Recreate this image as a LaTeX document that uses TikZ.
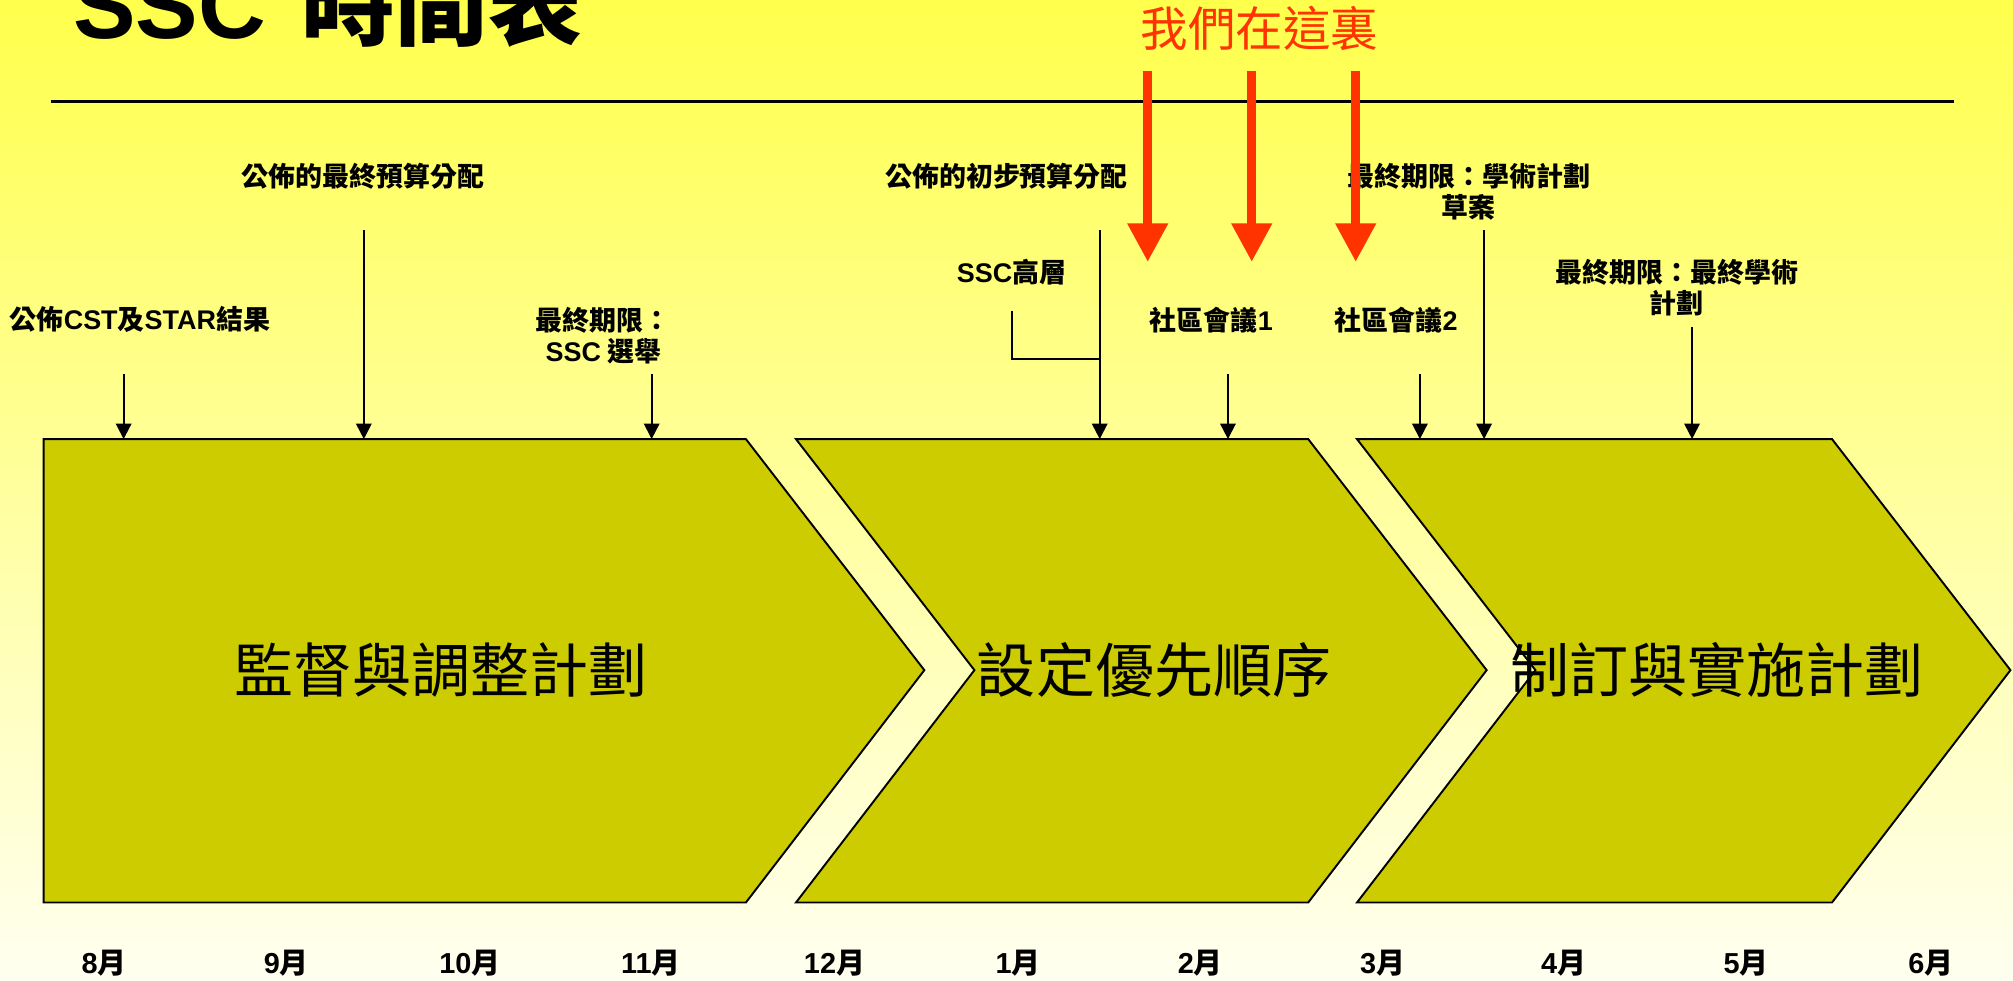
\documentclass[tikz,border=0pt]{standalone}
\usepackage{fontspec}
\usetikzlibrary{arrows.meta}
\newfontfamily\cjk{Noto Sans CJK TC}
\newfontfamily\lat{Liberation Sans}
\definecolor{olivefill}{HTML}{CCCC00}
\definecolor{redarrow}{HTML}{FF3300}
\definecolor{bgtop}{RGB}{255,255,76}
\definecolor{bgbot}{RGB}{255,255,240}
\tikzset{
  lbl/.style={font=\cjk\bfseries\fontsize{21}{24.5}\selectfont, align=center, inner sep=0pt},
  month/.style={font=\cjk\bfseries\fontsize{22.5}{24}\selectfont, inner sep=0pt},
  chevtext/.style={font=\cjk\fontsize{46}{50}\selectfont, inner sep=0pt},
  chev/.style={fill=olivefill, draw=black, line width=1.5pt, line join=miter},
  arr/.style={draw=black, line width=1.5pt, -{Triangle[width=12pt,length=12pt]}},
  redarr/.style={draw=redarrow, line width=7pt, -{Triangle[width=30pt,length=30pt]}},
  plain/.style={draw=black, line width=1.5pt},
}
\begin{document}
\begin{tikzpicture}[x=1pt,y=-1pt]
\useasboundingbox (0,0) rectangle (1568,764);
\shade[top color=bgtop, bottom color=bgbot] (0,0) rectangle (1568,764);

% title
\node[anchor=base west, inner sep=0pt, font=\bfseries\fontsize{73}{80}\selectfont] (title) at (57,30) {{\lat SSC} {\cjk 時間表}};
\coordinate (hl1) at (40,79);
\coordinate (hl2) at (1522,79);
\draw[line width=2pt] (hl1) -- (hl2);

% chevrons
\draw[chev] (34,342) -- (581,342) -- (720,522) -- (581,703) -- (34,703) -- cycle;
\draw[chev] (620,342) -- (1019,342) -- (1158,522) -- (1019,703) -- (620,703) -- (759,522) -- cycle;
\draw[chev] (1057,342) -- (1427,342) -- (1566,522) -- (1427,703) -- (1057,703) -- (1196,522) -- cycle;

\node[chevtext] (c1) at (343.5,522) {監督與調整計劃};
\node[chevtext] (c2) at (899,522) {設定優先順序};
\node[chevtext] (c3) at (1337.5,522) {制訂與實施計劃};

% labels
\node[lbl] (l1) at (109,249) {公佈{\lat CST}及{\lat STAR}結果};
\node[lbl] (l2) at (283,137.5) {公佈的最終預算分配};
\node[lbl] (l3) at (470,261.5) {最終期限：\\{\lat SSC} 選舉};
\node[lbl] (l4) at (784,137.5) {公佈的初步預算分配};
\node[lbl] (l5) at (788,212) {{\lat SSC}高層};
\node[lbl] (l6) at (943.6,249) {社區會議{\lat 1}};
\node[lbl] (l7) at (1087.5,249) {社區會議{\lat 2}};
\node[lbl] (l8) at (1144,149.5) {最終期限：學術計劃\\草案};
\node[lbl] (l9) at (1306,224) {最終期限：最終學術\\計劃};

% arrow coordinates
\coordinate (a1s) at (96.3,291.5);   \coordinate (a1e) at (96.3,342);
\coordinate (a2s) at (283.4,179);    \coordinate (a2e) at (283.4,342);
\coordinate (a3s) at (507.6,291.5);  \coordinate (a3e) at (507.6,342);
\coordinate (a4s) at (856.6,179);    \coordinate (a4e) at (856.6,342);
\coordinate (a6s) at (956.5,291.5);  \coordinate (a6e) at (956.5,342);
\coordinate (a7s) at (1106,291.5);   \coordinate (a7e) at (1106,342);
\coordinate (a8s) at (1156,179);     \coordinate (a8e) at (1156,342);
\coordinate (a9s) at (1318,254.5);   \coordinate (a9e) at (1318,342);
\coordinate (e1) at (788,242);
\coordinate (e2) at (788,279.6);
\coordinate (e3) at (856.6,279.6);

\draw[arr] (a1s) -- (a1e);
\draw[arr] (a2s) -- (a2e);
\draw[arr] (a3s) -- (a3e);
\draw[arr] (a4s) -- (a4e);
\draw[arr] (a6s) -- (a6e);
\draw[arr] (a7s) -- (a7e);
\draw[arr] (a8s) -- (a8e);
\draw[arr] (a9s) -- (a9e);
\draw[plain] (e1) -- (e2) -- (e3);

% red "we are here"
\node[font=\cjk\fontsize{37}{40}\selectfont, text=redarrow, inner sep=0pt] (here) at (981,22) {我們在這裏};
\coordinate (r1s) at (894,55);  \coordinate (r1e) at (894,204);
\coordinate (r2s) at (975,55);  \coordinate (r2e) at (975,204);
\coordinate (r3s) at (1056,55); \coordinate (r3e) at (1056,204);
\draw[redarr] (r1s) -- (r1e);
\draw[redarr] (r2s) -- (r2e);
\draw[redarr] (r3s) -- (r3e);

% months
\node[month] (m8) at (81,750) {{\lat 8}月};
\node[month] (m9) at (223,750) {{\lat 9}月};
\node[month] (m10) at (366,750) {{\lat 10}月};
\node[month] (m11) at (507,750) {{\lat 11}月};
\node[month] (m12) at (650,750) {{\lat 12}月};
\node[month] (m1) at (793,750) {{\lat 1}月};
\node[month] (m2) at (935,750) {{\lat 2}月};
\node[month] (m3) at (1077,750) {{\lat 3}月};
\node[month] (m4) at (1218,750) {{\lat 4}月};
\node[month] (m5) at (1360,750) {{\lat 5}月};
\node[month] (m6) at (1504,750) {{\lat 6}月};
\end{tikzpicture}
\end{document}
